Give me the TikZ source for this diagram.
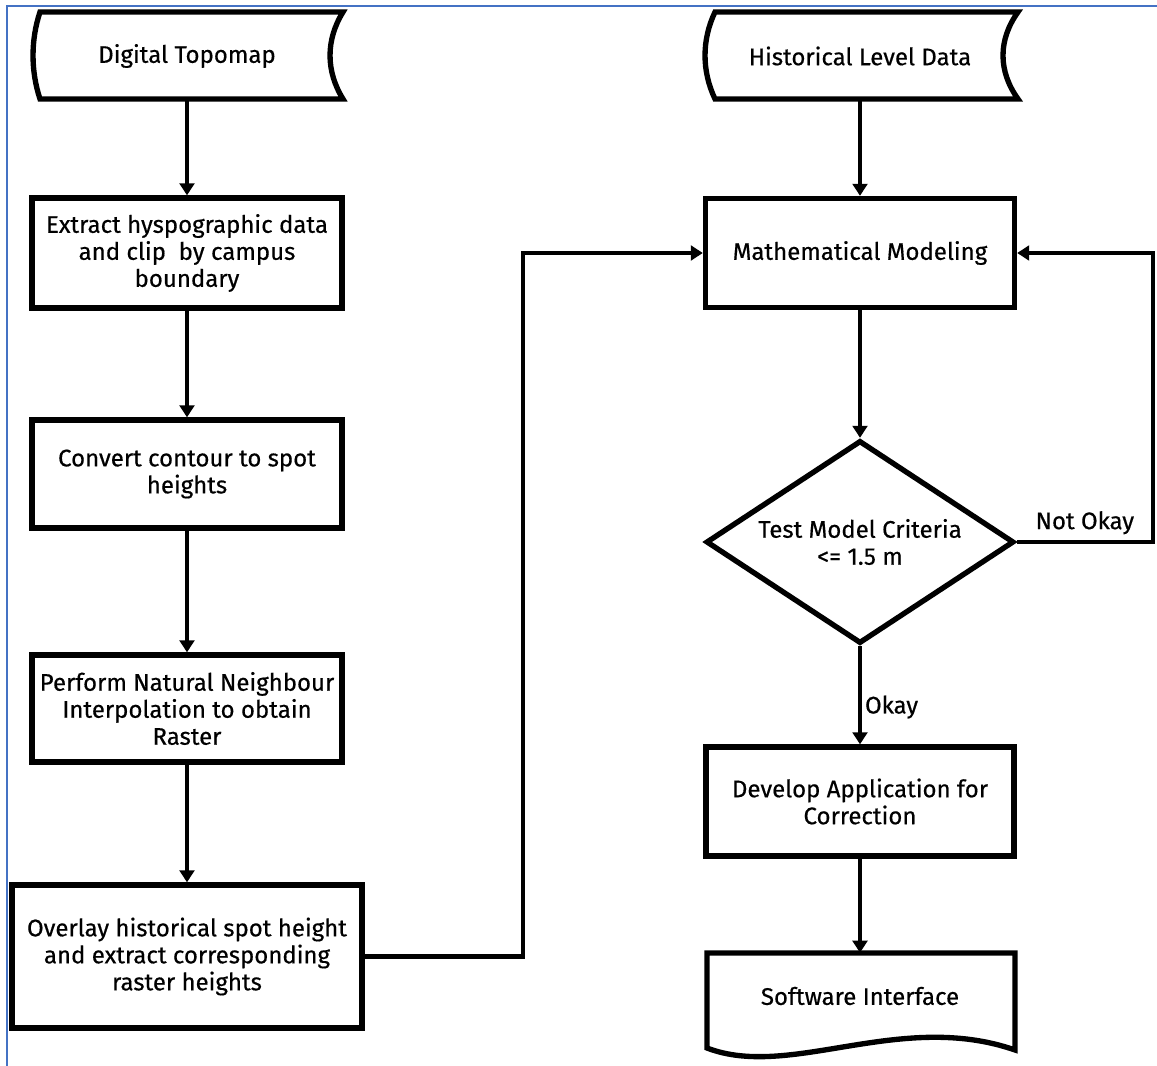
\documentclass[tikz,border=0pt]{standalone}
\usepackage{fontspec}
\setmainfont{Fira Sans}[FakeBold=0.5]
\usetikzlibrary{arrows.meta,shapes.geometric}
\begin{document}
\begin{tikzpicture}[x=0.75pt,y=-0.75pt,
  outline/.style={draw=black,line width=4pt,line join=miter},
  procbox/.style={outline,rectangle,align=center,inner sep=0pt,
    font=\fontsize{18}{20.25}\selectfont},
  plaintext/.style={align=center,inner sep=0pt,font=\fontsize{18}{20.25}\selectfont},
  conn/.style={draw=black,line width=3.6pt,-{Triangle[length=9pt,width=11pt]}},
  lbl/.style={font=\fontsize{18}{20.25}\selectfont,inner sep=2pt},
  frameline/.style={draw={rgb,255:red,68;green,114;blue,196},line width=2pt}
]
\useasboundingbox (0,0) rectangle (1157,1066);
\draw[frameline] (7,1066) -- (7,6) -- (1157,6);

% stored data shapes
\draw[outline] (40,12) -- (343,12) .. controls (325.7,40) and (325.7,71) .. (343,99)
  -- (40,99) .. controls (30.7,71) and (30.7,40) .. (40,12) -- cycle;
\node[plaintext,minimum width=227pt,minimum height=65.25pt] (topo) at (187,56) {Digital Topomap};

\draw[outline] (715,12) -- (1018,12) .. controls (998,40) and (998,71) .. (1018,99)
  -- (715,99) .. controls (701.7,71) and (701.7,40) .. (715,12) -- cycle;
\node[plaintext,minimum width=227pt,minimum height=65.25pt] (hist) at (860,56) {Historical Level Data};

% left column
\node[procbox,minimum width=232.5pt,minimum height=82.5pt] (extract) at (187,253)
  {Extract hyspographic data\\and clip\ \ by campus\\boundary};
\node[procbox,minimum width=232.5pt,minimum height=81pt] (convert) at (187,474)
  {Convert contour to spot\\heights};
\node[procbox,minimum width=232.5pt,minimum height=80.25pt] (perform) at (187,708.5)
  {Perform Natural Neighbour\\Interpolation to obtain\\Raster};
\node[procbox,minimum width=262.5pt,minimum height=107.25pt] (overlay) at (187,956.5)
  {Overlay historical spot height\\and extract corresponding\\raster heights};

% right column
\node[procbox,minimum width=231.75pt,minimum height=81.75pt] (math) at (860,253)
  {Mathematical Modeling};
\node[outline,diamond,aspect=1.517,inner sep=0pt,minimum width=231pt,minimum height=152.25pt,
  align=center,font=\fontsize{18}{20.25}\selectfont] (test) at (860,542)
  {Test Model Criteria\\<= 1.5 m};
\node[procbox,minimum width=231pt,minimum height=81.75pt] (develop) at (860,801.5)
  {Develop Application for\\Correction};

% document shape
\draw[outline] (707,953) -- (1015,953) -- (1015,1050)
  .. controls (900,1010) and (790,1080) .. (707,1048) -- cycle;
\node[plaintext,minimum width=231pt,minimum height=64.5pt] (soft) at (860,996) {Software Interface};

\coordinate (jx) at (523,600);
\coordinate (jr) at (1153,400);

% connectors
\draw[conn] (topo.south) -- (extract.north);
\draw[conn] (extract.south) -- (convert.north);
\draw[conn] (convert.south) -- (perform.north);
\draw[conn] (perform.south) -- (overlay.north);
\draw[conn] (overlay.east) -| (jx) |- (math.west);
\draw[conn] (hist.south) -- (math.north);
\draw[conn] (math.south) -- (test.north);
\draw[conn] (test.east) -| node[lbl,pos=0.25,above,yshift=2pt] {Not Okay} (jr) |- (math.east);
\draw[conn] (test.south) -- node[lbl,pos=0.62,right] {Okay} (develop.north);
\draw[conn] (develop.south) -- (soft.north);
\end{tikzpicture}
\end{document}
